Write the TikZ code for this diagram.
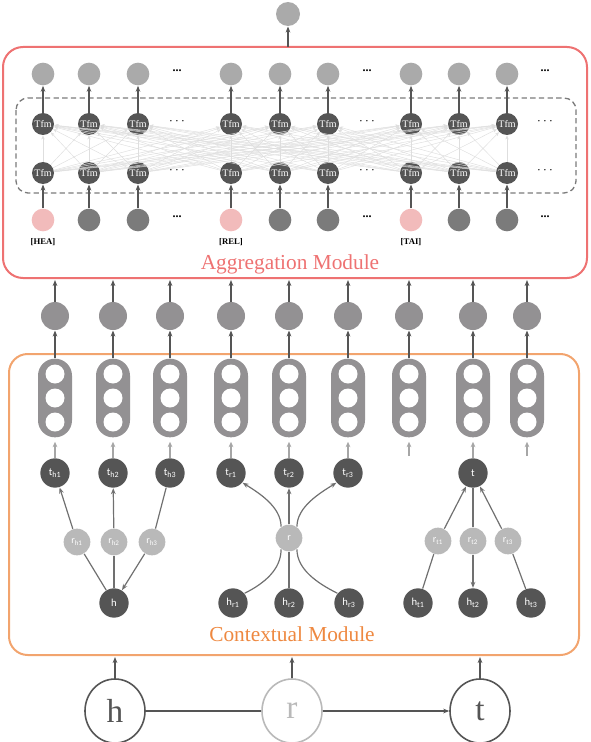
\documentclass[tikz,border=0pt]{standalone}
\usepackage{fontspec}
\setmainfont{Liberation Serif}
\setsansfont{Carlito}
\usetikzlibrary{arrows.meta,shapes.geometric}

\definecolor{darknode}{HTML}{555555}
\definecolor{midnode}{HTML}{7B7B7B}
\definecolor{pillgray}{HTML}{939193}
\definecolor{outgray}{HTML}{AAAAAA}
\definecolor{relgray}{HTML}{B9B9B9}
\definecolor{tokpink}{HTML}{F2BBBB}
\definecolor{aggred}{HTML}{EE7272}
\definecolor{ctxorange}{HTML}{F2A46E}
\definecolor{ctxtext}{HTML}{EE8840}
\definecolor{arrgray}{HTML}{555555}
\definecolor{linkgray}{HTML}{707070}

\newcommand{\lab}[2]{#1\textsubscript{#2}}

\tikzset{every picture/.style={line width=0.75pt}}
\tikzset{
  aggbox/.style={draw=aggred, line width=1.5pt, rounded corners=15pt},
  ctxbox/.style={draw=ctxorange, line width=1.5pt, rounded corners=14pt},
  tfmbox/.style={draw=midnode, dashed, dash pattern=on 4pt off 2.5pt, line width=1pt, rounded corners=9pt},
  outball/.style={circle, fill=outgray, inner sep=0pt, minimum size=18pt},
  aggout/.style={circle, fill=outgray, inner sep=0pt, minimum size=17pt},
  tfm/.style={circle, fill=darknode, inner sep=0pt, minimum size=16.5pt, text=white, font=\fontsize{7.5}{8}\selectfont},
  inball/.style={circle, inner sep=0pt, minimum size=17pt},
  midball/.style={circle, fill=pillgray, inner sep=0pt, minimum size=21pt},
  pill/.style={rectangle, fill=pillgray, rounded corners=12.7pt, inner sep=0pt, minimum width=25.5pt, minimum height=59pt},
  ent/.style={circle, fill=darknode, inner sep=0pt, minimum size=22pt, text=white, font=\sffamily\fontsize{8}{9}\selectfont},
  rel/.style={circle, fill=relgray, inner sep=0pt, minimum size=20pt, text=white, font=\sffamily\fontsize{7.5}{8}\selectfont},
  bigent/.style={ellipse, draw=darknode, line width=1.2pt, inner sep=0pt, minimum width=45pt, minimum height=48pt, text=darknode, font=\fontsize{25}{27}\selectfont},
  bigrel/.style={bigent, draw=relgray, text=relgray},
  arr/.style={draw=arrgray, line width=1pt, -{Stealth[length=4.5pt,width=3.5pt]}},
  thickarr/.style={arr, line width=1.4pt},
  xlink/.style={draw=black!13, line width=0.35pt, -{Stealth[length=3pt,width=2.5pt]}},
  larr/.style={draw=black!35, line width=1pt, shorten >=3pt, -{Stealth[length=4pt,width=3.5pt]}},
  link/.style={draw=linkgray, line width=0.9pt},
  garr/.style={link, -{Stealth[length=4.5pt,width=3.5pt]}},
  dotlab/.style={font=\bfseries\fontsize{9}{9}\selectfont},
  toklab/.style={font=\bfseries\fontsize{6.5}{7}\selectfont}
}

\begin{document}
\begin{tikzpicture}[x=0.75pt,y=0.75pt,yscale=-1,xscale=1]
  \useasboundingbox (0,0) rectangle (590,742);

  % aggregation module
  \draw [aggbox] (3,47) rectangle (587,278);
  \draw [tfmbox] (16,98) rectangle (576,193);
  \node [outball] (out) at (288,14) {};
  \coordinate (aggtop) at (288,47);
  \draw [arr] (aggtop) -- (out);

  \foreach \x/\c [count=\i] in {43/tokpink,89/midnode,138/midnode,231/tokpink,280/midnode,328/midnode,411/tokpink,459/midnode,507/midnode} {
    \node [aggout] (o\i) at (\x,74) {};
    \node [tfm] (t\i) at (\x,124) {Tfm};
    \node [tfm] (b\i) at (\x,173) {Tfm};
    \node [inball, fill=\c] (in\i) at (\x,220) {};
    \draw [thickarr] (in\i) -- (b\i);
    \draw [thickarr] (t\i) -- (o\i);
  }
  \foreach \i in {1,...,9} {
    \foreach \j in {1,...,9} {
      \draw [xlink] (b\i) -- (t\j);
    }
  }

  \foreach \x in {177,367,545} {
    \node [dotlab] at (\x,71) {...};
    \node at (\x,122) {$\cdots$};
    \node at (\x,171) {$\cdots$};
    \node [dotlab] at (\x,217) {...};
  }
  \node [toklab] (hea) at (43,242) {[HEA]};
  \node [toklab] (rel) at (231,242) {[REL]};
  \node [toklab] (tai) at (411,242) {[TAI]};
  \node [text=aggred, font=\fontsize{16}{17}\selectfont] (aggname) at (290,264) {Aggregation Module};

  % contextual module
  \draw [ctxbox] (9,354) rectangle (579,655);
  \foreach \x [count=\i] in {55,113,170,231,289,348,409,473,527} {
    \node [midball] (m\i) at (\x,316) {};
    \coordinate (a\i) at (\x,280);
    \node [pill] (p\i) at (\x,398) {};
    \foreach \y in {374,398,422} {
      \fill [white] (\x,\y) circle (9.5);
    }
    \draw [arr] (m\i) -- (a\i);
    \draw [arr] (p\i) -- (m\i);
  }

  \node [ent] (th1) at (55,473) {\lab{t}{h1}};
  \node [ent] (th2) at (113,473) {\lab{t}{h2}};
  \node [ent] (th3) at (170,473) {\lab{t}{h3}};
  \node [ent] (tr1) at (231,473) {\lab{t}{r1}};
  \node [ent] (tr2) at (289,473) {\lab{t}{r2}};
  \node [ent] (tr3) at (348,473) {\lab{t}{r3}};
  \node [ent] (t) at (473,473) {t};
  \coordinate (e7) at (409,456);
  \coordinate (e9) at (527,456);

  \draw [larr] (th1) -- (p1);
  \draw [larr] (th2) -- (p2);
  \draw [larr] (th3) -- (p3);
  \draw [larr] (tr1) -- (p4);
  \draw [larr] (tr2) -- (p5);
  \draw [larr] (tr3) -- (p6);
  \draw [larr] (e7) -- (p7);
  \draw [larr] (t) -- (p8);
  \draw [larr] (e9) -- (p9);

  \node [rel] (rh1) at (77,542) {\lab{r}{h1}};
  \node [rel] (rh2) at (114,542) {\lab{r}{h2}};
  \node [rel] (rh3) at (152,542) {\lab{r}{h3}};
  \node [rel] (r) at (289,538) {r};
  \node [rel] (rt1) at (438,541) {\lab{r}{t1}};
  \node [rel] (rt2) at (473,541) {\lab{r}{t2}};
  \node [rel] (rt3) at (508,541) {\lab{r}{t3}};

  \node [ent] (h) at (114,603) {h};
  \node [ent] (hr1) at (233,603) {\lab{h}{r1}};
  \node [ent] (hr2) at (289,603) {\lab{h}{r2}};
  \node [ent] (hr3) at (349,603) {\lab{h}{r3}};
  \node [ent] (ht1) at (418,603) {\lab{h}{t1}};
  \node [ent] (ht2) at (473,603) {\lab{h}{t2}};
  \node [ent] (ht3) at (531,603) {\lab{h}{t3}};

  \draw [link] (h) -- (rh1);
  \draw [garr] (rh1) -- (th1);
  \draw [link] (h) -- (rh2);
  \draw [garr] (rh2) -- (th2);
  \draw [link] (th3) -- (rh3);
  \draw [garr] (rh3) -- (h);

  \draw [link] (hr1.40) .. controls +(20,-10) and +(0,20) .. (r.235);
  \draw [garr] (r.125) .. controls +(0,-20) and +(16,10) .. (tr1.-40);
  \draw [link] (hr2) -- (r);
  \draw [garr] (r) -- (tr2);
  \draw [link] (hr3.140) .. controls +(-20,-10) and +(0,20) .. (r.-55);
  \draw [garr] (r.55) .. controls +(0,-20) and +(-16,10) .. (tr3.220);

  \draw [link] (ht1) -- (rt1);
  \draw [garr] (rt1) -- (t);
  \draw [link] (t) -- (rt2);
  \draw [garr] (rt2) -- (ht2);
  \draw [link] (ht3) -- (rt3);
  \draw [garr] (rt3) -- (t);

  \node [text=ctxtext, font=\fontsize{16}{17}\selectfont] (ctxname) at (292,634) {Contextual Module};

  % input triple
  \node [bigent] (H) at (115,711) {h};
  \node [bigrel] (R) at (292,711) {r};
  \node [bigent] (T) at (480,711) {t};
  \coordinate (c1) at (115,657);
  \coordinate (c2) at (292,657);
  \coordinate (c3) at (480,657);
  \draw [arr] (H) -- (c1);
  \draw [arr] (R) -- (c2);
  \draw [arr] (T) -- (c3);
  \draw [arrgray, line width=1.4pt] (H) -- (R);
  \draw [arr, line width=1.4pt] (R) -- (T);

\end{tikzpicture}
\end{document}
